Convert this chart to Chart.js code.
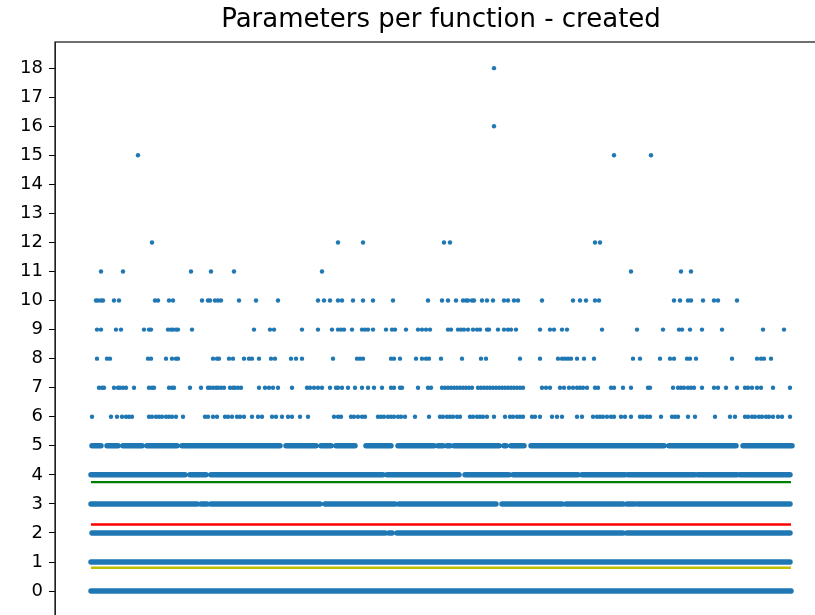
<!DOCTYPE html>
<html>
<head>
<meta charset="utf-8">
<script src="https://cdn.jsdelivr.net/npm/chart.js@4.4.1/dist/chart.umd.min.js"></script>
<style>
  html, body { margin: 0; padding: 0; background: #fff; overflow: hidden; }
  #wrap { width: 840px; height: 634px; }
</style>
</head>
<body>
<div id="wrap"><canvas id="myChart" width="840" height="634"></canvas></div>
<script>
// chart title
const chartTitle = 'Parameters per function - created';

// sparse rows: function positions (x) that have this many parameters
const xRow18 = [403];
const xRow16 = [403];
const xRow15 = [47, 523, 560];
const xRow12 = [61, 247, 272, 353, 359, 504, 509];
const xRow11 = [10, 32, 100, 120, 143, 231, 540, 590, 600];
const xRow10 = [5, 7, 10, 12, 23, 28, 64, 67, 78, 82, 111, 117, 119, 124, 127, 130, 148, 165, 187,
  227, 233, 239, 247, 251, 262, 272, 282, 302, 337, 351, 357, 365, 372, 375, 377, 381, 383, 391,
  396, 402, 413, 417, 423, 427, 451, 482, 489, 495, 504, 508, 583, 589, 597, 600, 612, 623, 627, 646];
const xRow9 = [6, 10, 25, 30, 53, 58, 60, 77, 80, 82, 85, 87, 101, 163, 179, 183, 211, 227, 241, 247,
  250, 253, 261, 271, 274, 277, 282, 295, 301, 304, 315, 327, 331, 335, 339, 357, 360, 367, 370, 373,
  377, 382, 386, 389, 396, 398, 407, 413, 417, 420, 425, 449, 459, 463, 471, 476, 511, 546, 572, 588,
  591, 599, 611, 631, 672, 693];
const xRow8 = [6, 16, 19, 57, 60, 75, 81, 85, 87, 122, 126, 128, 138, 142, 153, 158, 161, 168, 180, 184,
  200, 205, 211, 242, 266, 269, 272, 300, 303, 309, 325, 331, 335, 338, 350, 371, 390, 395, 429, 449,
  467, 471, 474, 477, 480, 486, 493, 503, 542, 549, 569, 579, 583, 596, 599, 605, 641, 666, 670, 673, 680];
const xRow7 = [8, 11, 13, 23, 27, 29, 32, 35, 43, 58, 61, 63, 78, 81, 83, 99, 110, 117, 119, 122, 125,
  127, 130, 133, 139, 142, 144, 147, 150, 168, 174, 178, 182, 187, 201, 216, 219, 223, 227, 231, 239,
  245, 247, 251, 257, 264, 271, 277, 283, 291, 300, 303, 309, 311, 327, 337, 340, 351, 354, 357, 360,
  363, 366, 369, 372, 375, 378, 381, 387, 390, 393, 396, 399, 402, 405, 408, 411, 414, 417, 420, 423,
  426, 429, 432, 451, 455, 459, 469, 473, 478, 482, 486, 489, 492, 496, 504, 507, 520, 523, 532, 540,
  557, 559, 582, 587, 590, 593, 597, 600, 603, 611, 623, 627, 635, 646, 654, 657, 661, 666, 670, 682, 699];
const xRow6 = [1, 20, 26, 31, 35, 38, 41, 58, 61, 65, 68, 71, 75, 78, 81, 85, 92, 114, 117, 122, 126,
  134, 137, 141, 146, 149, 153, 161, 167, 171, 181, 185, 191, 197, 201, 209, 217, 243, 247, 250, 260,
  263, 267, 271, 274, 287, 290, 293, 297, 300, 303, 307, 310, 314, 324, 338, 349, 352, 356, 359, 362,
  366, 369, 379, 382, 386, 389, 392, 396, 403, 414, 419, 422, 426, 429, 432, 441, 444, 449, 461, 466,
  471, 486, 491, 502, 506, 509, 512, 516, 520, 523, 530, 534, 540, 549, 552, 556, 559, 570, 581, 584,
  587, 597, 604, 624, 639, 644, 654, 657, 661, 664, 668, 671, 675, 678, 682, 687, 691, 699];

// dense rows: stretches [from, to] where the dots merge into a band
const runsRow5 = [[1, 10], [16, 27], [32, 51], [56, 86], [91, 189], [195, 225], [230, 240], [245, 264],
  [275, 300], [307, 343], [347, 352], [356, 359], [363, 408], [413, 415], [420, 433], [440, 573],
  [578, 645], [652, 701]];
const runsRow4 = [[0, 94], [99, 115], [120, 292], [296, 368], [374, 418], [422, 487], [491, 534],
  [537, 604], [607, 646], [649, 699]];
const runsRow3 = [[0, 106], [110, 116], [120, 229], [234, 304], [308, 405], [411, 471], [475, 532],
  [536, 544], [547, 699]];
const runsRow2 = [[1, 294], [298, 301], [306, 532], [536, 699]];
const runsRow1 = [[0, 699]];
const runsRow0 = [[0, 700]];

// horizontal reference lines (mean + std, mean, mean - std)
const refLevels = [3.75, 2.29, 0.80];
const refColors = ['#008000', '#ff0000', '#bfbf00'];

const dotRows = [[18, xRow18], [16, xRow16], [15, xRow15], [12, xRow12], [11, xRow11], [10, xRow10],
  [9, xRow9], [8, xRow8], [7, xRow7], [6, xRow6]];
const runRows = [[5, runsRow5], [4, runsRow4], [3, runsRow3], [2, runsRow2], [1, runsRow1], [0, runsRow0]];

var C0 = '#1f77b4';
var xMin = Infinity, xMax = -Infinity;
dotRows.forEach(function (r) { r[1].forEach(function (x) { xMin = Math.min(xMin, x); xMax = Math.max(xMax, x); }); });
runRows.forEach(function (r) { r[1].forEach(function (s) { xMin = Math.min(xMin, s[0]); xMax = Math.max(xMax, s[1]); }); });

var datasets = [];
refLevels.forEach(function (v, i) {
    datasets.push({
        data: [{ x: xMin, y: v }, { x: xMax - 1, y: v }],
        showLine: true, borderColor: refColors[i], borderWidth: 2.4,
        pointRadius: 0, order: 0
    });
});
runRows.forEach(function (r) {
    var pts = [];
    r[1].forEach(function (s) {
        pts.push({ x: s[0], y: r[0] }, { x: s[1], y: r[0] }, { x: s[1], y: null });
    });
    datasets.push({
        data: pts, showLine: true, spanGaps: false,
        borderColor: C0, borderWidth: 5.5, borderCapStyle: 'round',
        pointRadius: 0, order: 1
    });
});
var dotPts = [];
dotRows.forEach(function (r) {
    r[1].forEach(function (x) { dotPts.push({ x: x, y: r[0] }); });
});
datasets.push({
    data: dotPts, backgroundColor: C0, borderWidth: 0,
    pointRadius: 2.2, pointHoverRadius: 2.2, order: 1
});

// axes frame like matplotlib spines, title centred over the axes
const framePlugin = {
    id: 'frame',
    beforeDraw(chart) {
        var ctx = chart.ctx;
        ctx.save();
        ctx.fillStyle = '#fff';
        ctx.fillRect(0, 0, chart.width, chart.height);
        ctx.restore();
    },
    afterDraw(chart) {
        var a = chart.chartArea, ctx = chart.ctx;
        ctx.save();
        ctx.strokeStyle = '#222';
        ctx.lineWidth = 1.3;
        ctx.strokeRect(a.left, a.top, a.right - a.left, a.bottom - a.top);
        ctx.fillStyle = '#000';
        ctx.font = '26px "DejaVu Sans"';
        ctx.textAlign = 'center';
        ctx.textBaseline = 'middle';
        ctx.fillText(chartTitle, (a.left + a.right) / 2, a.top - 22);
        ctx.restore();
    }
};

new Chart(document.getElementById('myChart').getContext('2d'), {
    type: 'scatter',
    data: { datasets: datasets },
    plugins: [framePlugin],
    options: {
        responsive: false, animation: false, devicePixelRatio: 1,
        layout: { padding: { left: 0, right: 13, top: 42, bottom: 0 } },
        plugins: {
            legend: { display: false },
            tooltip: { enabled: false },
            title: { display: false }
        },
        scales: {
            x: { type: 'linear', min: -36, max: 736, display: false },
            y: {
                type: 'linear', min: -0.9, max: 18.9,
                afterFit: function (scale) { scale.width = 55; },
                grid: { drawOnChartArea: false, drawTicks: true, tickLength: 6, tickColor: '#000' },
                border: { display: true, color: '#222' },
                ticks: {
                    stepSize: 1, includeBounds: false, autoSkip: false, padding: 6, color: '#000',
                    font: { family: 'DejaVu Sans', size: 18 }
                }
            }
        }
    }
});
</script>
</body>
</html>
